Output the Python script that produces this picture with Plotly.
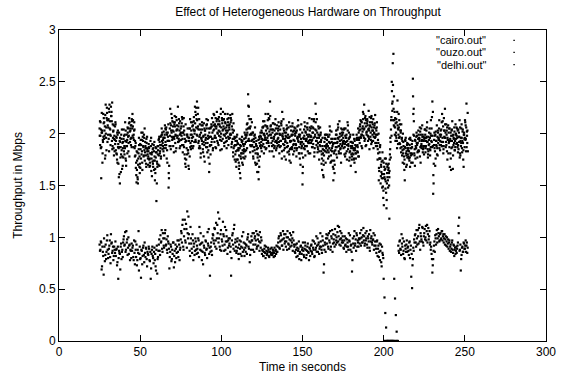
import plotly.graph_objects as go

# Throughput samples in hundredths of Mbps.
# "_a" lists: one sample every 0.5 s from t0; "_b" lists: same, offset by 0.25 s.
t0_cairo = 25.0
t0_delhi = 25.1
t0_ouzo = 25.0
step = 0.5

cairo_a = [
    205, 198, 157, 201, 194, 210, 203, 218, 196, 225, 208, 214, 221, 199, 226, 212, 188, 203, 195, 207,
    184, 196, 172, 190, 201, 152, 187, 195, 178, 192, 183, 199, 176, 188, 194, 205, 198, 211, 203, 196,
    212, 207, 199, 204, 188, 172, 165, 156, 181, 168, 190, 176, 194, 201, 187, 196, 182, 179, 191, 185,
    178, 186, 172, 181, 176, 190, 168, 183, 174, 187, 135, 171, 184, 179, 192, 186, 198, 193, 188, 202,
    196, 205, 189, 199, 201, 148, 193, 224, 208, 197, 203, 211, 195, 207, 198, 213, 204, 192, 210, 199,
    205, 198, 214, 201, 187, 195, 209, 193, 199, 184, 166, 178, 191, 203, 196, 208, 212, 200, 221, 206,
    231, 219, 204, 197, 186, 201, 193, 208, 198, 189, 203, 196, 205, 191, 184, 163, 197, 206, 192, 201,
    211, 204, 198, 215, 207, 193, 209, 216, 202, 197, 206, 213, 221, 199, 205, 210, 196, 208, 203, 215,
    204, 218, 199, 207, 195, 210, 188, 196, 183, 175, 191, 186, 179, 162, 188, 181, 193, 177, 185, 190,
    196, 204, 201, 238, 226, 199, 207, 193, 189, 201, 195, 184, 196, 188, 171, 180, 156, 191, 198, 186,
    201, 194, 207, 212, 196, 203, 191, 205, 198, 214, 231, 208, 196, 201, 189, 197, 209, 193, 186, 200,
    203, 192, 187, 199, 208, 221, 195, 184, 201, 193, 197, 205, 188, 196, 174, 192, 203, 187, 199, 194,
    206, 198, 189, 203, 195, 208, 187, 199, 192, 181, 151, 196, 204, 188, 201, 195, 210, 197, 191, 203,
    198, 207, 194, 201, 212, 186, 229, 203, 196, 191, 205, 198, 188, 194, 176, 185, 158, 192, 183, 199,
    190, 184, 197, 186, 203, 179, 192, 188, 155, 174, 195, 187, 199, 192, 206, 181, 193, 186, 198, 204,
    201, 193, 187, 205, 196, 189, 208, 195, 182, 199, 186, 178, 191, 184, 172, 189, 181, 194, 187, 196,
    203, 209, 196, 211, 202, 198, 228, 215, 207, 199, 212, 204, 195, 208, 201, 217, 203, 193, 206, 210,
    197, 203, 188, 194, 155, 182, 176, 168, 161, 149, 172, 158, 166, 143, 152, 170, 167, 158, 185, 204,
    250, 231, 277, 213, 206, 198, 211, 232, 204, 196, 209, 201, 187, 193, 181, 178, 155, 186, 179, 191,
    184, 176, 189, 181, 172, 187, 253, 224, 179, 193, 186, 198, 191, 184, 195, 202, 188, 193, 199, 186,
    195, 204, 188, 197, 192, 183, 201, 196, 187, 205, 231, 142, 189, 198, 176, 193, 186, 201, 194, 189,
    197, 204, 219, 192, 188, 203, 196, 209, 183, 194, 201, 187, 195, 165, 204, 198, 189, 206, 193, 200,
    198, 187, 204, 192, 181, 196, 209, 193, 175, 201, 196, 208, 229, 191,
]

cairo_b = [
    212, 186, 201, 172, 219, 195, 207, 228, 184, 213, 199, 224, 205, 189, 217, 230, 196, 208, 183, 211,
    197, 175, 203, 186, 161, 192, 180, 204, 169, 195, 188, 211, 174, 199, 206, 183, 215, 192, 208, 187,
    219, 196, 203, 178, 191, 153, 182, 170, 196, 162, 185, 201, 172, 193, 179, 205, 188, 168, 197, 176,
    190, 168, 181, 196, 159, 185, 174, 192, 166, 182, 152, 188, 170, 197, 183, 176, 205, 185, 196, 179,
    208, 186, 201, 172, 193, 157, 205, 188, 219, 194, 207, 182, 217, 199, 186, 208, 226, 195, 203, 188,
    194, 216, 182, 207, 199, 171, 193, 180, 205, 169, 196, 214, 185, 199, 211, 188, 203, 226, 192, 214,
    198, 225, 186, 209, 177, 195, 204, 182, 210, 173, 194, 208, 187, 213, 196, 171, 205, 189, 215, 184,
    219, 192, 207, 186, 221, 200, 189, 212, 194, 224, 185, 203, 213, 191, 219, 200, 186, 214, 197, 208,
    196, 211, 187, 219, 182, 203, 175, 193, 168, 199, 184, 172, 195, 157, 181, 197, 170, 188, 176, 199,
    184, 209, 193, 217, 206, 182, 214, 188, 201, 176, 192, 206, 170, 188, 181, 163, 197, 178, 189, 203,
    188, 212, 181, 198, 219, 186, 207, 193, 215, 183, 204, 196, 188, 210, 178, 203, 192, 184, 208, 195,
    211, 181, 204, 193, 176, 200, 214, 189, 195, 175, 208, 182, 196, 211, 185, 172, 198, 207, 180, 203,
    186, 202, 178, 196, 213, 181, 197, 170, 209, 192, 168, 186, 211, 179, 195, 206, 183, 193, 215, 181,
    191, 214, 187, 205, 178, 199, 219, 193, 182, 207, 175, 192, 201, 171, 188, 160, 179, 196, 172, 189,
    199, 176, 192, 207, 172, 195, 183, 168, 191, 162, 184, 203, 177, 196, 188, 212, 185, 172, 201, 190,
    186, 205, 178, 196, 183, 211, 190, 174, 197, 169, 192, 181, 199, 176, 186, 163, 195, 183, 205, 178,
    191, 213, 199, 186, 221, 204, 193, 217, 189, 210, 198, 222, 185, 207, 215, 192, 209, 186, 200, 218,
    188, 206, 175, 191, 164, 187, 159, 173, 182, 138, 161, 176, 154, 128, 168, 148, 162, 175, 192, 216,
    229, 247, 208, 221, 193, 214, 186, 205, 219, 191, 203, 182, 196, 172, 188, 165, 194, 181, 170, 186,
    178, 195, 168, 186, 181, 193, 219, 198, 169, 188, 201, 177, 195, 183, 206, 172, 190, 208, 185, 193,
    204, 182, 196, 211, 177, 189, 205, 184, 198, 216, 188, 152, 201, 169, 193, 208, 179, 196, 213, 184,
    189, 211, 196, 181, 203, 224, 187, 199, 175, 208, 192, 168, 201, 186, 212, 179, 195, 184, 209, 190,
    205, 182, 197, 213, 179, 191, 186, 204, 168, 195, 211, 183, 202, 220,
]

delhi_a = [
    198, 211, 187, 203, 192, 215, 198, 179, 206, 220, 213, 195, 228, 204, 217, 193, 209, 186, 198, 190,
    193, 180, 199, 171, 187, 196, 163, 184, 191, 177, 198, 186, 203, 192, 181, 197, 210, 202, 195, 208,
    205, 213, 194, 186, 179, 160, 174, 152, 185, 178, 167, 189, 183, 197, 178, 184, 192, 171, 186, 180,
    183, 175, 169, 188, 180, 173, 186, 165, 155, 177, 182, 168, 188, 195, 181, 197, 189, 201, 194, 186,
    199, 192, 206, 184, 197, 162, 188, 210, 203, 215, 196, 202, 209, 191, 216, 204, 198, 207, 193, 212,
    201, 210, 195, 189, 203, 176, 168, 186, 197, 181, 193, 205, 199, 188, 207, 197, 216, 203, 194, 225,
    213, 207, 193, 188, 204, 196, 211, 185, 192, 205, 199, 187, 209, 195, 177, 201, 189, 197, 207, 195,
    203, 218, 209, 196, 212, 201, 214, 198, 207, 219, 193, 210, 204, 214, 198, 192, 206, 201, 211, 195,
    209, 200, 213, 192, 201, 186, 197, 180, 189, 193, 175, 184, 169, 189, 176, 192, 184, 181, 195, 183,
    192, 199, 210, 227, 193, 205, 188, 199, 194, 178, 187, 199, 181, 193, 163, 186, 174, 195, 201, 192,
    195, 206, 199, 187, 208, 194, 200, 213, 191, 202, 217, 199, 204, 193, 210, 186, 199, 205, 193, 188,
    196, 207, 199, 188, 212, 198, 190, 203, 186, 198, 204, 191, 199, 183, 197, 207, 193, 185, 202, 190,
    193, 205, 201, 186, 197, 192, 181, 204, 195, 188, 162, 190, 198, 207, 193, 188, 204, 191, 199, 194,
    205, 193, 201, 190, 214, 197, 211, 189, 201, 185, 196, 189, 199, 183, 165, 181, 170, 188, 195, 186,
    194, 188, 182, 199, 191, 173, 186, 195, 166, 183, 191, 199, 187, 204, 195, 188, 200, 181, 194, 199,
    196, 204, 190, 181, 199, 193, 185, 201, 177, 192, 180, 188, 186, 175, 193, 181, 188, 196, 182, 201,
    196, 204, 212, 199, 207, 219, 205, 195, 213, 202, 208, 197, 203, 211, 194, 206, 199, 214, 201, 196,
    205, 191, 199, 181, 167, 176, 152, 163, 148, 157, 131, 165, 147, 171, 162, 155, 171, 164, 196, 213,
    241, 268, 224, 207, 215, 201, 193, 208, 199, 213, 190, 203, 195, 184, 192, 171, 187, 196, 183, 177,
    190, 183, 177, 194, 186, 180, 236, 212, 185, 176, 197, 189, 183, 199, 193, 187, 205, 194, 182, 197,
    188, 199, 193, 206, 185, 197, 190, 179, 213, 192, 198, 160, 194, 183, 202, 188, 197, 191, 205, 199,
    203, 192, 188, 207, 215, 196, 201, 189, 206, 194, 191, 205, 181, 198, 193, 166, 196, 202, 187, 195,
    191, 203, 185, 197, 206, 188, 196, 202, 184, 199, 213, 195, 187, 203,
]

delhi_b = [
    189, 204, 220, 181, 197, 211, 176, 200, 215, 192, 206, 183, 212, 198, 221, 185, 202, 179, 194, 209,
    181, 201, 187, 158, 193, 177, 199, 166, 186, 204, 180, 193, 169, 188, 201, 191, 178, 205, 189, 214,
    198, 187, 211, 193, 167, 183, 158, 176, 189, 171, 194, 180, 165, 188, 199, 174, 186, 195, 183, 170,
    187, 176, 193, 164, 182, 171, 189, 178, 162, 186, 173, 180, 194, 169, 189, 178, 199, 191, 183, 196,
    189, 204, 176, 193, 209, 169, 198, 185, 201, 212, 188, 197, 211, 183, 203, 196, 192, 214, 186, 200,
    207, 189, 201, 215, 180, 192, 175, 199, 184, 196, 205, 187, 211, 193, 186, 204, 192, 210, 218, 199,
    205, 191, 214, 199, 181, 208, 190, 197, 178, 203, 191, 214, 182, 198, 205, 188, 180, 209, 195, 186,
    208, 196, 187, 205, 214, 191, 203, 209, 184, 200, 215, 195, 207, 188, 211, 203, 193, 219, 189, 206,
    199, 215, 190, 204, 178, 195, 189, 173, 197, 184, 190, 166, 186, 178, 194, 172, 190, 183, 201, 178,
    198, 186, 205, 195, 214, 189, 200, 211, 183, 192, 198, 172, 190, 185, 177, 194, 168, 188, 197, 183,
    206, 190, 200, 194, 185, 207, 196, 219, 188, 199, 207, 191, 183, 204, 195, 188, 214, 200, 191, 205,
    189, 200, 193, 210, 183, 197, 205, 178, 192, 201, 187, 196, 206, 180, 193, 186, 199, 210, 189, 183,
    200, 190, 184, 207, 193, 199, 176, 190, 186, 201, 177, 195, 185, 202, 188, 199, 192, 181, 206, 197,
    197, 187, 206, 196, 182, 204, 193, 214, 187, 199, 183, 206, 192, 180, 196, 174, 184, 199, 188, 182,
    188, 197, 178, 191, 184, 202, 174, 190, 181, 170, 195, 180, 191, 209, 183, 197, 190, 205, 188, 192,
    191, 180, 198, 192, 175, 203, 188, 196, 183, 188, 175, 191, 180, 195, 184, 176, 199, 189, 178, 194,
    207, 197, 188, 205, 214, 196, 210, 188, 201, 214, 193, 205, 216, 197, 190, 211, 203, 197, 208, 191,
    199, 211, 185, 200, 176, 189, 170, 157, 174, 145, 168, 156, 176, 136, 158, 165, 150, 180, 177, 198,
    222, 213, 236, 199, 210, 196, 221, 190, 206, 197, 186, 209, 179, 200, 185, 175, 193, 168, 189, 180,
    186, 174, 196, 179, 190, 172, 199, 181, 194, 186, 191, 182, 203, 196, 178, 199, 186, 197, 188, 180,
    196, 186, 203, 192, 180, 194, 185, 200, 193, 187, 221, 171, 186, 199, 189, 180, 203, 195, 186, 193,
    199, 188, 212, 185, 197, 209, 192, 203, 196, 181, 205, 193, 176, 203, 187, 199, 191, 184, 199, 206,
    196, 189, 201, 177, 193, 205, 182, 191, 199, 187, 194, 206, 198, 183,
]

ouzo_a = [
    93, 88, 95, 72, 86, 64, 91, 83, 79, 97, 88, 84, 92, 81, 103, 95, 87, 78, 91, 85,
    82, 89, 76, 60, 87, 84, 91, 79, 88, 95, 101, 93, 86, 106, 98, 90, 84, 93, 88, 80,
    87, 92, 78, 85, 96, 81, 73, 88, 106, 84, 79, 61, 87, 82, 92, 76, 85, 90, 79, 86,
    83, 89, 77, 60, 84, 91, 80, 86, 78, 72, 88, 65, 81, 93, 87, 102, 96, 89, 104, 92,
    99, 107, 93, 88, 101, 94, 70, 86, 91, 79, 84, 95, 82, 76, 89, 85, 97, 81, 93, 88,
    98, 104, 112, 91, 101, 117, 95, 108, 125, 99, 103, 87, 110, 94, 85, 97, 91, 83, 99, 88,
    92, 85, 97, 110, 88, 94, 78, 86, 101, 90, 83, 96, 89, 105, 92, 84, 63, 91, 87, 99,
    102, 94, 108, 97, 89, 112, 124, 99, 91, 103, 87, 96, 115, 101, 93, 88, 107, 96, 90, 99,
    94, 86, 63, 97, 104, 89, 112, 95, 91, 87, 99, 84, 93, 89, 96, 82, 90, 105, 88, 94,
    86, 92, 98, 103, 89, 76, 95, 101, 97, 88, 104, 99, 93, 106, 91, 98, 102, 87, 95, 100,
    84, 87, 82, 89, 85, 91, 83, 86, 88, 81, 86, 84, 90, 83, 87, 85, 82, 88, 92, 86,
    95, 101, 89, 104, 97, 92, 106, 99, 94, 103, 96, 88, 100, 93, 98, 91, 102, 95, 87, 97,
    91, 85, 88, 94, 82, 89, 79, 86, 92, 84, 90, 87, 81, 95, 88, 83, 91, 86, 78, 89,
    87, 93, 84, 90, 96, 82, 88, 101, 92, 86, 95, 89, 104, 91, 85, 97, 66, 88, 93, 99,
    94, 102, 89, 97, 106, 91, 99, 86, 103, 95, 108, 93, 100, 105, 96, 110, 98, 92, 104, 97,
    95, 89, 101, 93, 86, 98, 91, 104, 96, 88, 93, 67, 99, 90, 106, 94, 87, 102, 97, 91,
    98, 104, 92, 100, 95, 109, 101, 94, 97, 106, 90, 99, 103, 87, 96, 101, 93, 98, 88, 102,
    92, 85, 97, 89, 81, 94, 87, 76, 91, 83, 60, 42, 27, 13, 0, 0, 0, 118, 0, 0,
    0, 0, 0, 60, 41, 25, 9, 0, 92, 85, 97, 88, 103, 91, 84, 96, 79, 89, 93, 86,
    91, 83, 96, 88, 62, 51, 79, 87, 95, 103, 91, 99, 107, 94, 112, 88, 101, 96, 109, 92,
    104, 98, 111, 106, 95, 109, 101, 93, 88, 84, 66, 79, 92, 86, 99, 103, 95, 108, 101, 97,
    104, 99, 106, 101, 95, 103, 98, 92, 100, 94, 89, 97, 91, 86, 95, 88, 93, 82, 90, 87,
    85, 92, 111, 119, 88, 68, 83, 91, 86, 94, 89, 97, 92, 85,
]

ouzo_b = [
    87, 96, 69, 91, 82, 99, 77, 93, 86, 102, 80, 89, 97, 75, 94, 85, 91, 82, 88, 96,
    88, 73, 91, 80, 85, 69, 94, 86, 81, 98, 92, 105, 88, 95, 83, 100, 92, 78, 87, 94,
    90, 81, 97, 74, 88, 93, 78, 85, 68, 91, 80, 88, 74, 90, 83, 95, 81, 89, 72, 84,
    91, 78, 86, 70, 88, 82, 75, 90, 84, 68, 92, 79, 87, 98, 83, 95, 107, 86, 99, 90,
    104, 92, 98, 85, 96, 89, 81, 93, 77, 88, 95, 71, 87, 93, 80, 91, 86, 97, 78, 90,
    106, 95, 117, 88, 108, 97, 113, 90, 104, 120, 94, 82, 99, 89, 103, 78, 94, 87, 96, 84,
    89, 99, 81, 93, 104, 87, 95, 74, 92, 85, 97, 88, 80, 94, 108, 90, 86, 95, 83, 103,
    97, 109, 91, 114, 99, 104, 95, 118, 88, 107, 98, 92, 103, 87, 110, 96, 101, 84, 97, 92,
    99, 91, 80, 102, 93, 108, 87, 98, 85, 96, 90, 79, 97, 84, 91, 101, 86, 95, 82, 90,
    93, 84, 100, 91, 96, 83, 88, 97, 104, 93, 86, 101, 97, 89, 103, 92, 96, 105, 90, 97,
    88, 82, 86, 92, 80, 87, 84, 90, 82, 86, 89, 83, 85, 88, 81, 90, 87, 84, 86, 91,
    99, 90, 96, 102, 92, 98, 88, 103, 96, 91, 100, 106, 94, 89, 104, 97, 92, 99, 105, 93,
    86, 93, 81, 90, 87, 96, 84, 91, 78, 88, 95, 83, 89, 92, 80, 87, 94, 85, 90, 82,
    92, 86, 97, 88, 81, 94, 90, 86, 99, 93, 84, 91, 96, 88, 101, 92, 74, 95, 86, 103,
    99, 91, 104, 95, 88, 101, 107, 94, 98, 91, 102, 97, 95, 111, 101, 93, 106, 99, 95, 101,
    90, 97, 92, 99, 91, 95, 88, 97, 102, 92, 86, 78, 94, 101, 92, 98, 104, 91, 95, 99,
    94, 99, 107, 95, 102, 97, 92, 104, 99, 93, 101, 96, 90, 107, 99, 95, 97, 104, 92, 96,
    89, 96, 82, 92, 86, 78, 93, 72, 85, 80, 0, 0, 0, 0, 0, 0, 0, 0, 0, 0,
    0, 0, 0, 0, 0, 0, 0, 0, 87, 96, 89, 83, 94, 99, 87, 80, 92, 86, 97, 90,
    87, 95, 80, 92, 84, 73, 90, 98, 102, 95, 107, 93, 101, 109, 96, 104, 98, 110, 95, 101,
    108, 100, 97, 112, 103, 98, 106, 95, 91, 79, 73, 87, 96, 102, 93, 107, 99, 104, 96, 103,
    98, 106, 97, 103, 99, 93, 101, 96, 91, 98, 95, 87, 93, 89, 97, 85, 92, 88, 84, 91,
    89, 95, 104, 87, 93, 79, 90, 86, 95, 89, 92, 86, 95, 90,
]

series = [
    ('"cairo.out"', t0_cairo, cairo_a, cairo_b),
    ('"ouzo.out"', t0_ouzo, ouzo_a, ouzo_b),
    ('"delhi.out"', t0_delhi, delhi_a, delhi_b),
]

x_ticks = [0, 50, 100, 150, 200, 250, 300]
y_ticks = [0, 0.5, 1, 1.5, 2, 2.5, 3]

FONT = "Liberation Sans, Arial, Helvetica, sans-serif"

fig = go.Figure()
for name, t0, va, vb in series:
    xs = [t0 + step * i for i in range(len(va))] + [t0 + step / 2 + step * i for i in range(len(vb))]
    ys = [v / 100.0 for v in va] + [v / 100.0 for v in vb]
    fig.add_trace(go.Scatter(
        x=xs, y=ys, mode="markers", name=name,
        marker=dict(symbol="square", size=2.2, color="black", line=dict(width=0)),
        showlegend=False,
    ))

# gnuplot-style key: right-aligned label with a dot sample to its right
legend_y = [0.967, 0.928, 0.889]
annotations = []
shapes = []
for (name, _, _, _), ly in zip(series, legend_y):
    annotations.append(dict(
        xref="paper", yref="paper", x=0.881, y=ly, text=name, showarrow=False,
        xanchor="right", yanchor="middle", font=dict(family=FONT, size=11, color="black"),
    ))
    shapes.append(dict(
        type="rect", xref="paper", yref="paper", x0=0.933, x1=0.936,
        y0=ly - 0.002, y1=ly + 0.002, fillcolor="black", line=dict(width=0),
    ))

fig.update_layout(
    width=566, height=382,
    margin=dict(l=59, r=10, t=30, b=41),
    paper_bgcolor="white", plot_bgcolor="white",
    font=dict(family=FONT, size=12, color="black"),
    title=dict(text="Effect of Heterogeneous Hardware on Throughput",
               x=308 / 566, xanchor="center", y=1 - 12 / 382, yanchor="middle",
               font=dict(family=FONT, size=12, color="black")),
    xaxis=dict(range=[0, 300], tickvals=x_ticks, ticks="inside", ticklen=6,
               mirror="ticks", showline=True, linecolor="black", linewidth=1,
               showgrid=False, zeroline=False, tickcolor="black",
               ticklabeloverflow="allow",
               title=dict(text="Time in seconds", standoff=4,
                          font=dict(family=FONT, size=12))),
    yaxis=dict(range=[0, 3], tickvals=y_ticks, ticks="inside", ticklen=6,
               mirror="ticks", showline=True, linecolor="black", linewidth=1,
               showgrid=False, zeroline=False, tickcolor="black",
               ticklabeloverflow="allow",
               title=dict(text="Throughput in Mbps", standoff=13,
                          font=dict(family=FONT, size=12))),
    annotations=annotations,
    shapes=shapes,
)

fig.write_html("out.html")
